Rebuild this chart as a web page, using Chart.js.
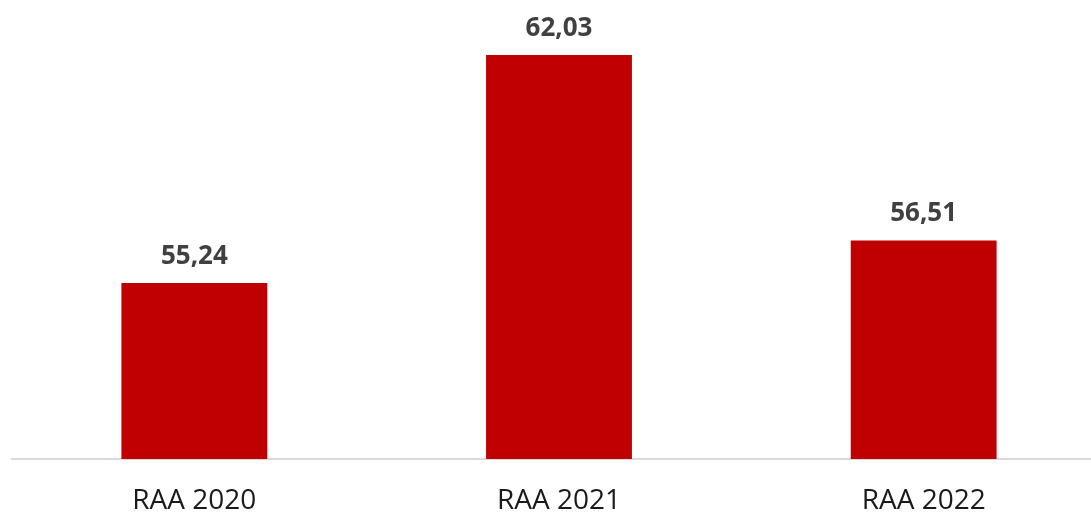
<!DOCTYPE html>
<html>
<head>
<meta charset="utf-8">
<script src="https://cdn.jsdelivr.net/npm/chart.js@4"></script>
<style>
  html, body { margin: 0; padding: 0; background: #fff; overflow: hidden; }
  #wrap { width: 1106px; height: 513px; position: relative; }
</style>
</head>
<body>
<div id="wrap"><canvas id="c"></canvas></div>
<script>
const categories = ['RAA 2020', 'RAA 2021', 'RAA 2022'];
const values = [55.24, 62.03, 56.51];

// Value labels above each bar, formatted with a decimal comma
const valueLabels = {
  id: 'valueLabels',
  afterDatasetsDraw(chart) {
    const ctx = chart.ctx;
    const meta = chart.getDatasetMeta(0);
    ctx.save();
    ctx.font = 'bold 26px "Open Sans"';
    ctx.fillStyle = '#404040';
    ctx.textAlign = 'center';
    ctx.textBaseline = 'alphabetic';
    meta.data.forEach((bar, i) => {
      const txt = values[i].toFixed(2).replace('.', ',');
      ctx.fillText(txt, bar.x, bar.y - 19);
    });
    ctx.restore();
  }
};

new Chart(document.getElementById('c'), {
  type: 'bar',
  data: {
    labels: categories,
    datasets: [{
      data: values,
      backgroundColor: '#C00000',
      borderWidth: 0,
      categoryPercentage: 1,
      barPercentage: 0.4
    }]
  },
  options: {
    responsive: true,
    maintainAspectRatio: false,
    animation: false,
    layout: { padding: { left: 12, right: 0, top: 0, bottom: 0 } },
    plugins: { legend: { display: false }, tooltip: { enabled: false } },
    scales: {
      y: {
        display: false,
        min: 50,
        max: 63.67
      },
      x: {
        grid: { display: false, drawTicks: false },
        border: { display: true, color: '#d9d9d9', width: 2 },
        ticks: {
          color: '#1a1a1a',
          font: { family: '"Open Sans"', size: 28 },
          padding: 25
        },
        afterFit(scale) { scale.height = 54; }
      }
    }
  },
  plugins: [valueLabels]
});
</script>
</body>
</html>
